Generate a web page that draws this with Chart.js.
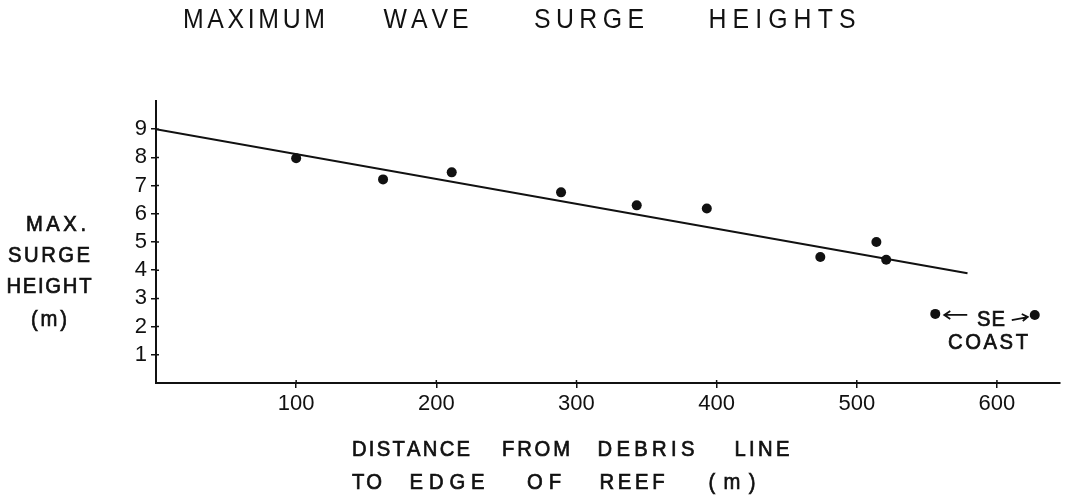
<!DOCTYPE html>
<html>
<head>
<meta charset="utf-8">
<script src="https://cdn.jsdelivr.net/npm/chart.js@4.4.1/dist/chart.umd.min.js"></script>
<style>
  body { margin: 0; background: #fff; }
  canvas { display: block; }
</style>
</head>
<body>
<canvas id="surgeChart" width="1068" height="495"></canvas>
<script>
// measured points (distance in m, max surge height in m)
const distance = [100, 162, 211, 289, 343, 393, 474, 514, 521];
const surgeHeight = [7.97, 7.22, 7.47, 6.76, 6.30, 6.19, 4.47, 5.0, 4.37];

// SE coast points, left out of the fit
const seDistance = [556, 627];
const seHeight = [2.45, 2.41];

// fitted line ends
const fitX = [0, 579];
const fitY = [9.0, 3.89];

const xTicks = [100, 200, 300, 400, 500, 600];
const yTicks = [1, 2, 3, 4, 5, 6, 7, 8, 9];

const FONT = "'Liberation Sans', Arial, sans-serif";
const INK = "#111";
const SQUEEZE = 0.92; // narrow the glyphs a little, like stencil lettering

// draws a word spread out to a given width (hand lettering look)
function spacedWord(ctx, text, cx, cy, width, bold) {
    const chars = text.split("");
    const natural = chars.reduce((s, c) => s + ctx.measureText(c).width * SQUEEZE, 0);
    const gap = chars.length > 1 ? (width - natural) / (chars.length - 1) : 0;
    let x = cx - width / 2;
    for (const c of chars) {
        ctx.save();
        ctx.translate(x, cy);
        ctx.scale(SQUEEZE, 1);
        ctx.fillText(c, 0, 0);
        if (bold) ctx.strokeText(c, 0, 0);
        ctx.restore();
        x += ctx.measureText(c).width * SQUEEZE + gap;
    }
}

const labelsPlugin = {
    id: "labels",
    afterDraw(chart) {
        const ctx = chart.ctx;
        const xs = chart.scales.x, ys = chart.scales.y;
        ctx.save();
        ctx.fillStyle = INK;
        ctx.strokeStyle = INK;
        ctx.lineWidth = 0.7;
        ctx.textAlign = "left";
        ctx.textBaseline = "middle";

        // title
        ctx.font = "27px " + FONT;
        spacedWord(ctx, "MAXIMUM", 254, 21, 142, false);
        spacedWord(ctx, "WAVE", 426, 21, 85, false);
        spacedWord(ctx, "SURGE", 589, 21, 110, false);
        spacedWord(ctx, "HEIGHTS", 782, 21, 147, false);

        // x axis title
        ctx.font = "22px " + FONT;
        spacedWord(ctx, "DISTANCE", 411, 450, 118, true);
        spacedWord(ctx, "FROM", 536, 450, 68, true);
        spacedWord(ctx, "DEBRIS", 646, 450, 97, true);
        spacedWord(ctx, "LINE", 762, 450, 55, true);
        spacedWord(ctx, "TO", 367, 483, 30, true);
        spacedWord(ctx, "EDGE", 447, 483, 75, true);
        spacedWord(ctx, "OF", 544, 483, 34, true);
        spacedWord(ctx, "REEF", 632, 483, 65, true);
        spacedWord(ctx, "(m)", 732, 483, 47, true);

        // y axis title
        spacedWord(ctx, "MAX.", 56, 225, 60, true);
        spacedWord(ctx, "SURGE", 49, 256, 82, true);
        spacedWord(ctx, "HEIGHT", 49, 287, 85, true);
        spacedWord(ctx, "(m)", 49, 320, 36, true);

        // SE coast note with arrows to its two points
        const lx = xs.getPixelForValue(seDistance[0]), ly = ys.getPixelForValue(seHeight[0]);
        const rx = xs.getPixelForValue(seDistance[1]), ry = ys.getPixelForValue(seHeight[1]);
        spacedWord(ctx, "SE", 991, 320, 28, true);
        spacedWord(ctx, "COAST", 988, 343, 80, true);

        ctx.lineWidth = 1.8;
        ctx.beginPath();
        ctx.moveTo(lx + 32, ly + 1);
        ctx.lineTo(lx + 9, ly + 1);
        ctx.moveTo(lx + 15, ly - 3);
        ctx.lineTo(lx + 9, ly + 1);
        ctx.lineTo(lx + 15, ly + 5);
        ctx.moveTo(rx - 23, ry + 5);
        ctx.lineTo(rx - 7, ry + 2);
        ctx.moveTo(rx - 13, ry - 1);
        ctx.lineTo(rx - 7, ry + 2);
        ctx.lineTo(rx - 12, ry + 6);
        ctx.stroke();

        // inner half of the tick marks
        ctx.lineWidth = 1.5;
        ctx.beginPath();
        for (const v of yTicks) {
            const y = ys.getPixelForValue(v);
            ctx.moveTo(xs.left, y);
            ctx.lineTo(xs.left + 3, y);
        }
        for (const v of xTicks) {
            const x = xs.getPixelForValue(v);
            ctx.moveTo(x, ys.bottom);
            ctx.lineTo(x, ys.bottom - 3);
        }
        ctx.stroke();
        ctx.restore();
    }
};

const ctx = document.getElementById("surgeChart").getContext("2d");

new Chart(ctx, {
    type: "scatter",
    data: {
        datasets: [
            {
                label: "fit",
                data: fitX.map((x, i) => ({ x: x, y: fitY[i] })),
                showLine: true,
                borderColor: INK,
                borderWidth: 2,
                pointRadius: 0,
                fill: false
            },
            {
                label: "surge",
                data: distance.map((x, i) => ({ x: x, y: surgeHeight[i] })),
                backgroundColor: INK,
                borderColor: INK,
                pointRadius: 5,
                pointBorderWidth: 0
            },
            {
                label: "SE coast",
                data: seDistance.map((x, i) => ({ x: x, y: seHeight[i] })),
                backgroundColor: INK,
                borderColor: INK,
                pointRadius: 5,
                pointBorderWidth: 0
            }
        ]
    },
    options: {
        responsive: false,
        animation: false,
        layout: { padding: { top: 101, right: 8, left: 0, bottom: 0 } },
        plugins: {
            legend: { display: false },
            tooltip: { enabled: false }
        },
        scales: {
            x: {
                type: "linear",
                min: 0,
                max: 645,
                afterBuildTicks: s => { s.ticks = xTicks.map(v => ({ value: v })); },
                afterFit: s => { s.height = 112; },
                border: { color: INK, width: 2 },
                grid: { drawOnChartArea: false, color: INK, lineWidth: 1.5, tickLength: 5 },
                ticks: { color: INK, font: { family: FONT, size: 22 }, padding: 3, maxRotation: 0 }
            },
            y: {
                type: "linear",
                min: 0,
                max: 10,
                afterBuildTicks: s => { s.ticks = yTicks.map(v => ({ value: v })); },
                afterFit: s => { s.width = 156; },
                border: { color: INK, width: 2 },
                grid: { drawOnChartArea: false, color: INK, lineWidth: 1.5, tickLength: 5 },
                ticks: { color: INK, font: { family: FONT, size: 22 }, padding: 4 }
            }
        }
    },
    plugins: [labelsPlugin]
});
</script>
</body>
</html>
